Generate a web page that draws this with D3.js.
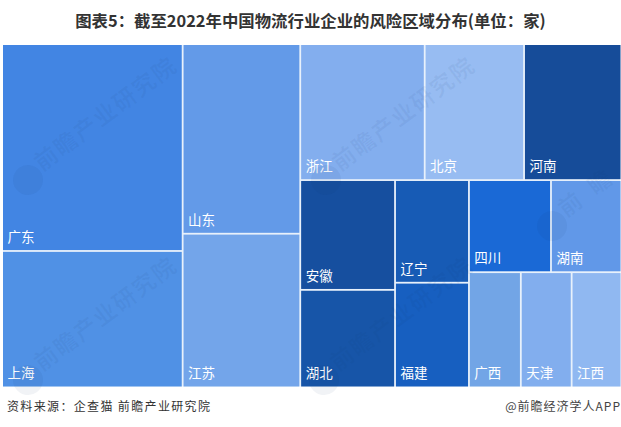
<!DOCTYPE html>
<html lang="zh">
<head>
<meta charset="UTF-8">
<script src="https://cdn.jsdelivr.net/npm/d3@7/dist/d3.min.js"></script>
<title>Treemap</title>
<style>
  html, body { margin: 0; padding: 0; background: #fff; }
  svg { display: block; }
  text { font-family: "Noto Sans CJK SC", sans-serif; }
</style>
</head>
<body>
<svg id="canvas" width="621" height="427"></svg>
<script>
// 读图估算的数值（按色块面积）
var provinces = ["广东","上海","山东","江苏","浙江","北京","河南","安徽","湖北","辽宁","福建","四川","湖南","广西","天津","江西"];
var values    = [3668, 2419, 2190, 1775, 1662, 1327, 1300, 1022, 908, 745, 760, 742, 637, 587, 575, 563];
var parents   = ["a","a","b","b","top","top","top","c1","c1","c2","c2","c3a","c3a","c3b","c3b","c3b"];
var colors    = ["#4285e3","#5091e5","#639ae8","#73a5ea","#83aeee","#97bcf2","#164c99","#164f9f","#1755a8","#175bb5","#175fc0","#1a69d6","#6198e8","#72a5e6","#82aeee","#90b8f1"];

// 分组层级，决定矩形树图的切分方式
var groupIds     = ["root","a","b","rest","top","bottom","c1","c2","c3","c3a","c3b"];
var groupParents = [null,"root","root","root","rest","rest","bottom","bottom","bottom","c3","c3"];

var titleText  = "图表5：截至2022年中国物流行业企业的风险区域分布(单位：家)";
var sourceText = "资料来源：企查猫 前瞻产业研究院";
var creditText = "@前瞻经济学人APP";
var markText   = "前瞻产业研究院";

var svg = d3.select("svg#canvas"),
    left = 3, top_ = 45, w = 617.5, h = 341.5;

var rows = groupIds.map(function(id, i) {
    return { id: id, parent: groupParents[i], value: 0 };
}).concat(provinces.map(function(name, i) {
    return { id: name, parent: parents[i], value: values[i], color: colors[i] };
}));

var root = d3.stratify()
    .id(function(d) { return d.id; })
    .parentId(function(d) { return d.parent; })(rows)
    .sum(function(d) { return d.value; });

d3.treemap()
    .tile(d3.treemapSliceDice)
    .size([w, h])
    .paddingInner(1.8)(root);

svg.append("text")
    .attr("x", 310.5).attr("y", 27)
    .attr("text-anchor", "middle")
    .attr("font-size", 16.4)
    .attr("font-weight", 700)
    .attr("fill", "#333")
    .text(titleText);

var chart = svg.append("g").attr("transform", "translate(" + left + "," + top_ + ")");

chart.append("rect")
    .attr("width", w).attr("height", h)
    .attr("fill", "#e8f1fb");

var leaves = chart.selectAll("g.cell")
    .data(root.leaves())
    .enter().append("g")
    .attr("class", "cell")
    .attr("transform", function(d) { return "translate(" + d.x0 + "," + d.y0 + ")"; });

leaves.append("rect")
    .attr("width", function(d) { return d.x1 - d.x0; })
    .attr("height", function(d) { return d.y1 - d.y0; })
    .attr("fill", function(d) { return d.data.color; });

// 水印
var marks = [[42, 172], [340, 172], [42, 372], [338, 372], [566, 218]];
var wm = svg.append("g").attr("pointer-events", "none");
marks.forEach(function(m) {
    var g = wm.append("g").attr("transform", "translate(" + m[0] + "," + m[1] + ") rotate(-37)");
    g.append("text")
        .attr("font-size", 23)
        .attr("font-weight", 700)
        .attr("fill", "#14386e")
        .attr("fill-opacity", 0.06)
        .attr("textLength", m[0] > 500 ? 60 : 170)
        .text(m[0] > 500 ? markText.slice(0, 2) : markText);
    g.append("circle")
        .attr("cx", -16).attr("cy", -2).attr("r", 15)
        .attr("fill", "#14386e")
        .attr("fill-opacity", 0.06);
});

leaves.append("text")
    .attr("x", 4.5)
    .attr("y", function(d) { return d.y1 - d.y0 - 8; })
    .attr("font-size", 13.5)
    .attr("fill", "#fff")
    .text(function(d) { return d.data.id; });

svg.append("text")
    .attr("x", 7).attr("y", 411)
    .attr("font-size", 12)
    .attr("letter-spacing", 1.35)
    .attr("fill", "#333")
    .text(sourceText);

svg.append("text")
    .attr("x", 621).attr("y", 411)
    .attr("text-anchor", "end")
    .attr("font-size", 12)
    .attr("letter-spacing", 1)
    .attr("fill", "#444")
    .text(creditText);
</script>
</body>
</html>
